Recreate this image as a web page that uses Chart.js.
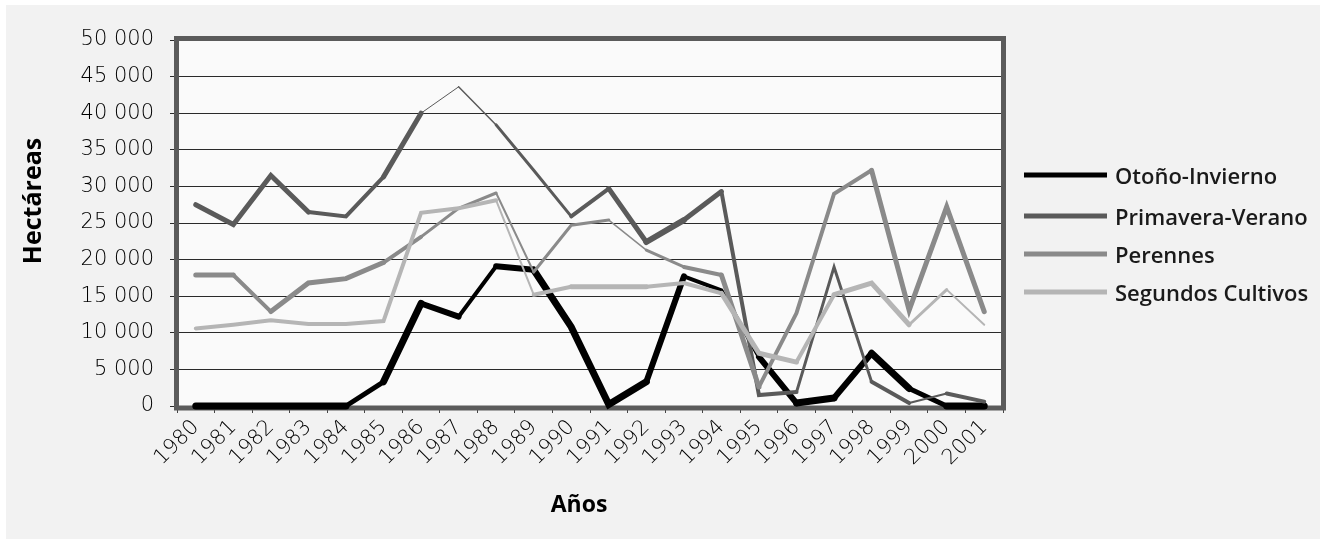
<!DOCTYPE html>
<html>
<head>
<meta charset="utf-8">
<script src="https://cdn.jsdelivr.net/npm/chart.js@4.4.1/dist/chart.umd.min.js"></script>
<style>
  html, body { margin: 0; padding: 0; background: #ffffff; }
  #wrap { position: relative; width: 1326px; height: 539px; }
</style>
</head>
<body>
<div id="wrap"><canvas id="chart" width="1326" height="539"></canvas></div>
<script>
// Superficie cultivada (hectáreas) por ciclo agrícola, 1980-2001
const years = ['1980','1981','1982','1983','1984','1985','1986','1987','1988','1989','1990',
               '1991','1992','1993','1994','1995','1996','1997','1998','1999','2000','2001'];

const otonoInvierno    = [0, 0, 0, 0, 0, 3300, 14000, 12200, 19100, 18600, 10800,
                          200, 3300, 17700, 15800, 6700, 400, 1100, 7200, 2400, 0, 0];
const primaveraVerano  = [27500, 24800, 31500, 26500, 25900, 31300, 40000, 43600, 38400, 32200, 25900,
                          29700, 22400, 25400, 29300, 1500, 1900, 19000, 3300, 400, 1700, 600];
const perennes         = [17900, 17900, 12900, 16800, 17400, 19600, 23100, 27000, 29100, 18300, 24700,
                          25400, 21300, 19000, 17900, 2600, 12700, 29000, 32200, 13100, 27200, 12900];
const segundosCultivos = [10600, 11100, 11700, 11200, 11200, 11600, 26400, 27000, 28100, 15200, 16300,
                          16300, 16300, 16800, 15400, 7200, 6000, 15200, 16800, 11100, 15900, 11100];

const seriesNames = ['Otoño-Invierno', 'Primavera-Verano', 'Perennes', 'Segundos Cultivos'];
const yTickValues = [0, 5000, 10000, 15000, 20000, 25000, 30000, 35000, 40000, 45000, 50000];

// Line styling
const seriesColors = ['#000000', '#5a5a5a', '#8a8a8a', '#b5b5b5'];
const segmentWidths = [
  [7, 7, 7, 7, 5, 7, 6, 4, 6, 7, 7, 7, 6, 4, 4, 6, 7, 6, 7, 5, 7],
  [5, 5, 5, 4, 4, 5, 1, 1.5, 3, 3, 4, 5, 6, 5, 4, 4, 3, 3, 4, 2, 4],
  [5, 4, 5, 5, 5, 4, 3, 3, 2, 3, 3, 1.5, 3, 4, 5, 4, 4, 4, 5, 5, 5],
  [4, 4, 4, 4, 4, 4, 4, 4, 2, 4, 5, 5, 4, 4, 5, 5, 4, 5, 5, 3, 2]
];

const TEXT = '#000000';
const fmtThousands = v => v === 0 ? '0' : (v / 1000) + ' 000';

const backdrop = {
  id: 'backdrop',
  beforeDraw(chart) {
    const { ctx, chartArea: a } = chart;
    ctx.save();
    ctx.fillStyle = '#f2f2f2';
    ctx.fillRect(6, 5, 1314, 534);
    ctx.fillStyle = '#fafafa';
    ctx.fillRect(a.left, a.top, a.right - a.left, a.bottom - a.top);
    ctx.restore();
  }
};

const frame = {
  id: 'frame',
  beforeDatasetsDraw(chart) {
    const { ctx, chartArea: a } = chart;
    ctx.save();
    ctx.strokeStyle = '#5b5b5b';
    ctx.lineWidth = 5;
    ctx.strokeRect(a.left - 0.5, a.top - 1.5, a.right - a.left + 1, a.bottom - a.top + 3.5);
    ctx.restore();
  }
};

const decorations = {
  id: 'decorations',
  afterDraw(chart) {
    const { ctx } = chart;
    ctx.save();
    // axis titles
    ctx.fillStyle = '#000';
    ctx.textAlign = 'center';
    ctx.textBaseline = 'middle';
    ctx.font = 'bold 23px "Open Sans"';
    ctx.fillText('Años', 579, 505);
    ctx.translate(34, 201);
    ctx.rotate(-Math.PI / 2);
    ctx.font = 'bold 25px "Open Sans"';
    ctx.fillText('Hectáreas', 0, 0);
    ctx.restore();

    // legend
    ctx.save();
    const rowY = [175, 216, 254, 292];
    ctx.font = '600 22px "Open Sans"';
    ctx.textAlign = 'left';
    ctx.textBaseline = 'middle';
    seriesNames.forEach((name, i) => {
      ctx.strokeStyle = seriesColors[i];
      ctx.lineWidth = 5;
      ctx.beginPath();
      ctx.moveTo(1024, rowY[i]);
      ctx.lineTo(1107, rowY[i]);
      ctx.stroke();
      ctx.fillStyle = '#1a1a1a';
      ctx.fillText(name, 1115, rowY[i] + 3);
    });
    ctx.restore();
  }
};

const seriesData = [otonoInvierno, primaveraVerano, perennes, segundosCultivos];

new Chart(document.getElementById('chart'), {
  type: 'line',
  data: {
    labels: years,
    datasets: seriesData.map((values, i) => ({
      label: seriesNames[i],
      data: values,
      borderColor: seriesColors[i],
      borderWidth: 5,
      borderCapStyle: 'round',
      borderJoinStyle: 'miter',
      pointRadius: 0,
      tension: 0,
      fill: false,
      clip: 10,
      order: seriesData.length - i,
      segment: {
        borderWidth: ctx => segmentWidths[i][ctx.p0DataIndex]
      }
    }))
  },
  options: {
    responsive: false,
    animation: false,
    devicePixelRatio: 1,
    layout: { padding: { top: 40, right: 323, bottom: 0, left: 0 } },
    plugins: { legend: { display: false }, tooltip: { enabled: false } },
    scales: {
      x: {
        type: 'category',
        offset: true,
        border: { display: false },
        grid: { offset: true, drawOnChartArea: false, drawTicks: true, tickLength: 7, color: '#444', lineWidth: 1 },
        ticks: {
          autoSkip: false, minRotation: 45, maxRotation: 45, padding: 2,
          color: TEXT, font: { family: 'DejaVu Sans', size: 21, weight: '300' }
        },
        afterFit: s => { s.height = 539 - 406; }
      },
      y: {
        min: 0, max: 50000,
        border: { display: false },
        afterBuildTicks: s => { s.ticks = yTickValues.map(v => ({ value: v })); },
        grid: { color: '#2a2a2a', lineWidth: 1, tickLength: 7 },
        ticks: {
          padding: 16, color: TEXT,
          font: { family: 'DejaVu Sans', size: 21, weight: '300' },
          callback: v => fmtThousands(v)
        },
        afterFit: s => { s.width = 177; }
      }
    }
  },
  plugins: [backdrop, frame, decorations]
});
</script>
</body>
</html>
